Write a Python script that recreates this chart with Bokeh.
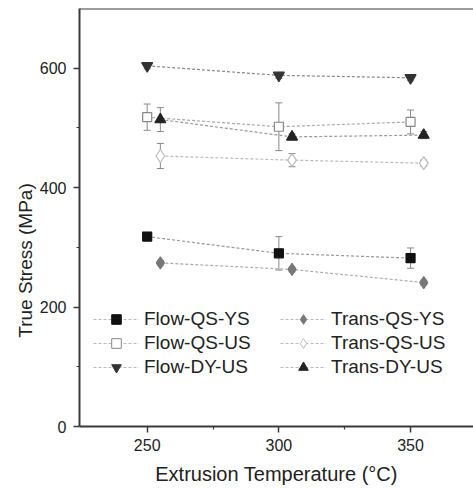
import math
from bokeh.plotting import figure
from bokeh.models import (ColumnDataSource, Whisker, TeeHead, Span, Legend, LegendItem,
                          Label, FixedTicker, Range1d)
from bokeh.embed import file_html
from bokeh.resources import INLINE

# ---- data ----
temp_flow = [250, 300, 350]
temp_trans = [255, 305, 355]

flow_qs_ys = [318, 290, 282]
flow_qs_ys_err = [7, 28, 17]
trans_qs_ys = [274, 263, 241]
trans_qs_ys_err = [4, 4, 4]
flow_qs_us = [518, 502, 510]
flow_qs_us_err = [22, 40, 20]
trans_qs_us = [453, 446, 441]
trans_qs_us_err = [21, 11, 5]
flow_dy_us = [604, 588, 584]
flow_dy_us_err = [5, 5, 5]
trans_dy_us = [514, 485, 488]
trans_dy_us_err = [20, 5, 6]

y_ticks = [0, 200, 400, 600]
y_minor = [100, 300, 500]
x_ticks = [250, 300, 350]
x_minor = [275, 325]

FONT = "Liberation Sans"
AX = "#3a3a3a"

p = figure(width=473, height=489, output_backend="svg", toolbar_location=None,
           x_range=Range1d(224.3, 373.9), y_range=Range1d(0, 700),
           min_border_left=79, min_border_right=0, min_border_top=8, min_border_bottom=63)
p.outline_line_color = None
p.xgrid.visible = False
p.ygrid.visible = False
p.background_fill_color = "white"

for ax in (p.xaxis[0], p.yaxis[0]):
    ax.axis_line_color = AX
    ax.axis_line_width = 2
    ax.major_tick_line_color = AX
    ax.minor_tick_line_color = AX
    ax.major_tick_line_width = 1.5
    ax.minor_tick_line_width = 1.2
    ax.major_tick_in = 0
    ax.major_tick_out = 6
    ax.minor_tick_in = 0
    ax.minor_tick_out = 3
    ax.major_label_text_font = FONT
    ax.major_label_text_font_size = "16px"
    ax.major_label_text_color = "#222"

p.xaxis.ticker = FixedTicker(ticks=x_ticks, minor_ticks=x_minor)
p.yaxis.ticker = FixedTicker(ticks=y_ticks, minor_ticks=y_minor)
p.xaxis.major_label_standoff = 6
p.yaxis.major_label_standoff = 7
p.xaxis.axis_label = "Extrusion Temperature (°C)"
p.xaxis.axis_label_text_font = FONT
p.xaxis.axis_label_text_font_size = "20px"
p.xaxis.axis_label_text_font_style = "normal"
p.xaxis.axis_label_text_color = "#222"
p.xaxis.axis_label_standoff = 9

p.add_layout(Span(location=700, dimension="width", line_color=AX, line_width=2))

ylab = Label(x=10, y=166, x_units="screen", y_units="screen", text="True Stress (MPa)",
             angle=math.pi / 2, text_align="center", text_baseline="middle",
             text_font=FONT, text_font_size="19px", text_color="#222")
p.add_layout(ylab, "left")

series = [
    ("Flow-QS-YS", temp_flow, flow_qs_ys, flow_qs_ys_err, "square", 9, "#111111", "#111111", "#999999"),
    ("Trans-QS-YS", temp_trans, trans_qs_ys, trans_qs_ys_err, "diamond", 12, "#777777", "#777777", "#aaaaaa"),
    ("Flow-QS-US", temp_flow, flow_qs_us, flow_qs_us_err, "square", 9, "#888888", "white", "#aaaaaa"),
    ("Trans-QS-US", temp_trans, trans_qs_us, trans_qs_us_err, "diamond", 13, "#bbbbbb", "white", "#bbbbbb"),
    ("Flow-DY-US", temp_flow, flow_dy_us, flow_dy_us_err, "inverted_triangle", 11, "#333333", "#333333", "#888888"),
    ("Trans-DY-US", temp_trans, trans_dy_us, trans_dy_us_err, "triangle", 11, "#222222", "#222222", "#999999"),
]

items = []
for name, xs, ys, errs, marker, size, lc, fc, linec in series:
    src = ColumnDataSource(dict(x=xs, y=ys,
                                upper=[a + b for a, b in zip(ys, errs)],
                                lower=[a - b for a, b in zip(ys, errs)]))
    p.line("x", "y", source=src, line_color=linec, line_width=1.2, line_dash="3 2")
    w = Whisker(source=src, base="x", upper="upper", lower="lower", dimension="height",
                line_color="#888888", line_width=1,
                upper_head=TeeHead(size=7, line_color="#888888", line_width=1),
                lower_head=TeeHead(size=7, line_color="#888888", line_width=1))
    p.add_layout(w)
    p.scatter("x", "y", source=src, marker=marker, size=size, line_color=lc, fill_color=fc, line_width=1.2)
    # legend proxies (placed outside the visible range)
    off = ColumnDataSource(dict(x=[0, 1], y=[-500, -500]))
    lr = p.line("x", "y", source=off, line_color="#bbbbbb", line_width=1, line_dash="3 2")
    sr = p.scatter("x", "y", source=off, marker=marker, size=size - 3, line_color=lc, fill_color=fc, line_width=1)
    items.append(LegendItem(label=name, renderers=[lr, sr]))


def make_legend(its, loc):
    lg = Legend(items=its, location=loc, orientation="vertical",
                border_line_color=None, background_fill_alpha=0,
                padding=0, margin=0, spacing=0,
                glyph_width=46, glyph_height=24, label_height=24, label_standoff=5,
                label_text_font=FONT, label_text_font_size="19px", label_text_color="#222")
    return lg


p.add_layout(make_legend([items[0], items[2], items[4]], (14, 47)))
p.add_layout(make_legend([items[1], items[3], items[5]], (201, 47)))

open("out.html", "w").write(file_html(p, INLINE))
